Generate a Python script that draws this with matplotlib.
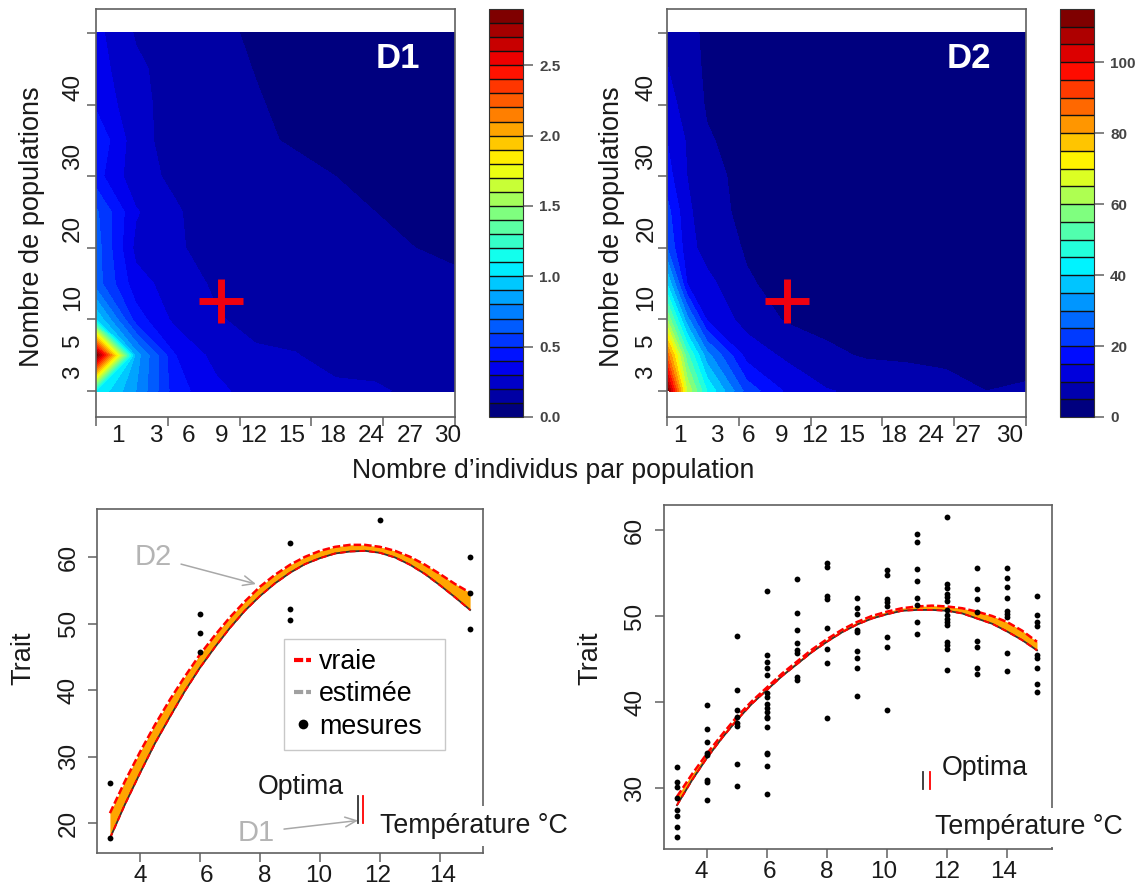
import matplotlib
matplotlib.use('Agg')
import matplotlib.pyplot as plt
from matplotlib.colors import LinearSegmentedColormap
from matplotlib.lines import Line2D
import numpy as np

plt.rcParams['font.family'] = ['Liberation Sans', 'DejaVu Sans']

W, H = 1137, 889

# grids of the two maps (0-1 scale of the R filled.contour)
grid_x_d1 = [0, 1/9, 2/9, 3/9, 4/9, 5/9, 6/9, 7/9, 8/9, 1]
grid_x_d2 = [0, 0.5/9, 1/9, 2/9, 3/9, 4/9, 5/9, 6/9, 7/9, 8/9, 1]
grid_y = [0, .1, .2, .3, .4, .5, .6, .7, .8, .9, 1]

# rows go from bottom to top
z_d1 = [
    [1.10, .80, .44, .33, .25, .205, .215, .21, .185, .17],
    [2.88, .85, .40, .265, .215, .203, .175, .17, .16, .15],
    [1.00, .45, .27, .21, .17, .17, .16, .155, .15, .14],
    [.65, .34, .25, .185, .17, .155, .15, .14, .13, .115],
    [.65, .27, .21, .17, .16, .15, .14, .13, .10, .085],
    [.62, .31, .21, .15, .15, .14, .125, .10, .09, .08],
    [.44, .235, .18, .16, .15, .125, .10, .085, .08, .075],
    [.484, .24, .15, .15, .115, .09, .085, .08, .075, .07],
    [.385, .225, .165, .125, .105, .085, .08, .075, .07, .065],
    [.345, .22, .155, .12, .098, .08, .075, .07, .065, .06],
    [.33, .19, .15, .115, .09, .075, .07, .065, .06, .06],
]
z_d2 = [
    [114, 65, 45, 23, 14.2, 10.3, 9, 8, 6.5, 5, 5.5],
    [88, 52, 32, 13, 9, 6, 4.5, 4.2, 4, 3.8, 3.6],
    [60, 32, 14.5, 8, 4.5, 3.5, 3, 2.8, 2.6, 2.5, 2.4],
    [40, 15, 11.5, 5.5, 3.5, 3, 2.7, 2.5, 2.4, 2.3, 2.2],
    [25, 12, 8, 4.5, 3, 2.7, 2.5, 2.3, 2.2, 2.1, 2],
    [22, 11, 7.3, 3.5, 2.5, 2.4, 2.3, 2.2, 2.1, 2, 1.9],
    [17, 10, 6.5, 3.5, 2.5, 2.3, 2.2, 2.1, 2, 1.9, 1.8],
    [15, 9.5, 5.5, 3, 2.4, 2.2, 2.1, 2, 1.9, 1.8, 1.7],
    [12, 8, 4.5, 2.8, 2.3, 2.1, 2, 1.9, 1.8, 1.7, 1.6],
    [10.2, 7, 4.2, 2.5, 2.2, 2, 1.9, 1.8, 1.7, 1.6, 1.5],
    [9.5, 6.5, 4, 2.4, 2.1, 1.9, 1.8, 1.7, 1.6, 1.5, 1.4],
]
levels_d1 = [i / 10 for i in range(30)]
levels_d2 = [i * 5 for i in range(24)]
cbar_ticks_d1 = [0, .5, 1, 1.5, 2, 2.5]
cbar_ticks_d2 = [0, 20, 40, 60, 80, 100]
jet_colors = ['#00007F', 'blue', '#007FFF', 'cyan', '#7FFF7F', 'yellow', '#FF7F00', 'red', '#7F0000']

n_indiv_labels = ['1', '3', '6', '9', '12', '15', '18', '24', '27', '30']
n_pop_labels = ['3', '5', '10', '20', '30', '40']
cross_d1 = (.347, .252)
cross_d2 = (.335, .252)

# lower panels
temp = [3, 3.5, 4, 4.5, 5, 5.5, 6, 6.5, 7, 7.5, 8, 8.5, 9, 9.5, 10, 10.5, 11, 11.5, 12, 12.5,
        13, 13.5, 14, 14.5, 15]
up_c = [21.5, 26.3, 30.7, 34.8, 38.6, 42.1, 45.4, 48.3, 51, 53.4, 55.6, 57.4, 58.9, 60.1, 61,
        61.6, 61.9, 61.9, 61.6, 61, 60.1, 58.9, 57.5, 56, 54.7]
lo_c = [17.7, 22.8, 27.5, 32, 36, 39.9, 43.4, 46.5, 49.4, 52, 54.2, 56.1, 57.7, 59, 59.9,
        60.6, 60.9, 61, 60.7, 60, 58.9, 57.5, 55.8, 54, 52.1]
meas_c_x = [3, 3, 6, 6, 6, 9, 9, 9, 12, 15, 15, 15]
meas_c_y = [26, 17.7, 51.5, 48.7, 45.8, 62.2, 52.2, 50.6, 65.6, 60, 54.6, 49.3]

up_d = [29, 31.6, 34, 36.2, 38.3, 40.1, 41.7, 43.3, 44.7, 46.1, 47.3, 48.4, 49.3, 50, 50.5,
        50.9, 51.1, 51.2, 51.1, 50.9, 50.5, 50, 49.3, 48.3, 47]
lo_d = [28, 30.9, 33.5, 35.8, 37.9, 39.8, 41.4, 43, 44.4, 45.8, 47, 48.1, 49, 49.7, 50.2,
        50.6, 50.7, 50.7, 50.6, 50.3, 49.7, 49.1, 48.2, 47.2, 46]
meas_d = {
    3: [32.4, 30.7, 30.1, 28.8, 27.4, 26.7, 25.5, 24.3],
    4: [39.65, 36.9, 35.3, 34.1, 33.8, 30.9, 30.7, 28.6],
    5: [47.7, 41.4, 39.1, 38.2, 37.5, 37.2, 32.75, 30.2],
    6: [52.9, 45.5, 44.7, 44, 43.1, 41, 40.6, 39.8, 39.3, 38.8, 38.3, 38.1, 37.1, 34.1, 33.95, 32.6, 29.3],
    7: [54.3, 50.4, 48.4, 46.8, 46, 45.7, 42.9, 42.6],
    8: [56.2, 55.7, 52.3, 52, 48.6, 46.2, 44.5, 38.1],
    9: [52.1, 50.9, 50.2, 48.4, 48.1, 45.9, 45.1, 44, 40.7],
    10: [55.3, 54.8, 52, 51.6, 51.2, 47.5, 46.4, 39.1],
    11: [59.5, 58.6, 55.5, 54.1, 52.1, 51.3, 49.3, 47.9],
    12: [61.5, 53.7, 53.3, 52.6, 52.2, 51.7, 50.7, 50.1, 49.7, 49.3, 49, 47, 46.6, 46.2, 43.7],
    13: [55.6, 53.1, 52, 50.5, 47.1, 46.4, 44, 43.3],
    14: [55.6, 54.4, 53.4, 52.1, 50.6, 50.2, 49.9, 45.7, 43.6],
    15: [52.3, 50.1, 49.3, 48.8, 45.5, 45.1, 43.9, 42.1, 41.2],
}

EDGE = '#606060'
TXT = '#1a1a1a'
BIG = 19.3


def px_axes(x0, y0, x1, y1):
    # axes from pixel box, y counted from the top
    a = fig.add_axes([x0 / W, 1 - y1 / H, (x1 - x0) / W, (y1 - y0) / H])
    # labels sit off the ticks, so minor ticks can share a major position
    a.xaxis.remove_overlapping_locs = False
    a.yaxis.remove_overlapping_locs = False
    return a


def style(ax):
    for s in ax.spines.values():
        s.set_color(EDGE)
        s.set_linewidth(1.2)


def heat(box, gx, z, levels, cbox, cticks, cross, name, xlab_pos, ylab_px, ypad):
    ax = px_axes(*box)
    n = len(levels) - 1
    cmap = LinearSegmentedColormap.from_list('jetR', jet_colors, N=n)
    cf = ax.contourf(gx, grid_y, np.array(z), levels=levels, cmap=cmap)
    ax.set_xlim(0, 1)
    ax.set_ylim(-.0726, 1.067)
    style(ax)
    ax.set_xticks([0, .2, .4, .6, .8, 1], [])
    ax.set_yticks([0, .2, .4, .6, .8, 1], [])
    ax.tick_params(axis='both', which='major', length=6.5, width=1.1, color=EDGE)
    # labels do not sit under the ticks in the original
    ax.set_xticks(xlab_pos, n_indiv_labels, minor=True)
    ax.set_yticks([.053, .142, .26, .455, .654, .849], n_pop_labels, minor=True)
    ax.tick_params(axis='x', which='minor', length=0, labelsize=17.5, pad=6, labelcolor=TXT)
    ax.tick_params(axis='y', which='minor', length=0, labelsize=17.5, pad=ypad, labelcolor=TXT,
                   labelrotation=90)
    for t in ax.get_yticklabels(minor=True):
        t.set_va('center')
    ax.plot(*cross, marker='+', ms=31, mew=5, color='#f00010', ls='none')
    ax.text(.84, .93, name, color='white', fontsize=25, fontweight='bold',
            ha='center', va='center')
    fig.text(ylab_px / W, 1 - 227 / H, 'Nombre de populations', rotation=90, fontsize=19.5,
             ha='center', va='center', color=TXT)

    cax = px_axes(*cbox)
    cb = fig.colorbar(cf, cax=cax, ticks=cticks, drawedges=True)
    cb.dividers.set_color('#111111')
    cb.dividers.set_linewidth(1.0)
    cb.outline.set_edgecolor('#333333')
    cb.ax.tick_params(length=7, width=1.1, color=EDGE, labelsize=11, labelcolor='#444444', pad=5)
    cb.ax.minorticks_off()
    for t in cb.ax.get_yticklabels():
        t.set_fontweight('bold')


def curve_panel(box, xlim, ylim, up, lo, opt, opt_y, ylab_x):
    ax = px_axes(*box)
    ax.set_xlim(*xlim)
    ax.set_ylim(*ylim)
    style(ax)
    ax.fill_between(temp, lo, up, color='#ffa500', lw=0, zorder=2)
    ax.plot(temp, lo, color='#333333', lw=1.3, zorder=2.1)
    ax.plot(temp, lo, color='red', lw=1.4, ls=(0, (3, 2)), zorder=2.2)
    ax.plot(temp, up, color='red', lw=1.8, ls=(0, (3, 1.2)), zorder=2.2)
    ax.plot([opt[0], opt[0]], opt_y, color='#333333', lw=1.3)
    ax.plot([opt[1], opt[1]], opt_y, color='red', lw=1.3)
    ax.tick_params(axis='both', which='major', length=6.5, width=1.1, color=EDGE)
    ax.tick_params(axis='y', labelsize=17.5, labelrotation=90, labelcolor=TXT, pad=6)
    for t in ax.get_yticklabels():
        t.set_va('center')
    fig.text(ylab_x / W, 1 - 658 / H, 'Trait', rotation=90, fontsize=19.5, ha='center',
             va='center', color=TXT)
    return ax


fig = plt.figure(figsize=(W / 100, H / 100), dpi=100)

heat((96, 9, 455, 417), grid_x_d1, z_d1, levels_d1, (489, 9, 522.5, 417), cbar_ticks_d1,
     cross_d1, 'D1', [.061, .167, .259, .351, .440, .546, .660, .766, .875, .980], 32, 8.5)
heat((667, 9, 1026, 417), grid_x_d2, z_d2, levels_d2, (1060, 9, 1093.5, 417), cbar_ticks_d2,
     cross_d2, 'D2', [.035, .140, .226, .320, .410, .515, .630, .735, .840, .955], 612, 7)

fig.text(553 / W, 1 - 471 / H, 'Nombre d\u2019individus par population', fontsize=19.2,
         ha='center', va='center', color=TXT)

# left lower panel
ax_c = curve_panel((97, 509, 483, 853), (2.57, 15.43), (15.5, 67.3), up_c, lo_c,
                   (11.27, 11.42), (20, 24.1), 23)
ax_c.plot(meas_c_x, meas_c_y, 'o', color='black', ms=4.2, mew=0, zorder=3)
ax_c.set_xticks([4, 6, 8, 10, 12, 14], [])
ax_c.set_yticks([20, 30, 40, 50, 60])
ax_c.set_xticks([4, 6.23, 8.17, 9.97, 11.93, 14.07], ['4', '6', '8', '10', '12', '14'], minor=True)
ax_c.tick_params(axis='x', which='minor', length=0, labelsize=17.5, labelcolor=TXT, pad=8.5)
ax_c.text(9.37, 25.4, 'Optima', fontsize=BIG, ha='center', va='center', color=TXT)
ax_c.text(15.13, 19.5, 'Temp\u00e9rature \u00b0C', fontsize=BIG, ha='center', va='center', color=TXT,
          zorder=5, clip_on=False, bbox=dict(fc='white', ec='none', pad=5))
ax_c.text(4.43, 60, 'D2', fontsize=21, color='#b4b4b4', ha='center', va='center')
ax_c.text(7.87, 18.5, 'D1', fontsize=21, color='#b4b4b4', ha='center', va='center')
ax_c.annotate('', xy=(7.87, 56), xytext=(5.37, 59),
              arrowprops=dict(arrowstyle='->,head_width=.35,head_length=.8', color='#a8a8a8', lw=1.1,
                              shrinkA=0, shrinkB=0))
ax_c.annotate('', xy=(11.27, 20.4), xytext=(8.8, 19.1),
              arrowprops=dict(arrowstyle='->,head_width=.35,head_length=.8', color='#a8a8a8', lw=1.1,
                              shrinkA=0, shrinkB=0))
leg_handles = [
    Line2D([], [], color='red', lw=3, ls=(0, (2.2, .7))),
    Line2D([], [], color='#a0a0a0', lw=3, ls=(0, (2.2, .7))),
    Line2D([], [], color='black', marker='o', ms=7, mew=0, ls='none'),
]
leg = ax_c.legend(leg_handles, ['vraie', 'estim\u00e9e', 'mesures'], loc='lower left',
                  bbox_to_anchor=(284 / W, 1 - 750 / H, 161 / W, 111 / H),
                  bbox_transform=fig.transFigure, mode='expand',
                  borderaxespad=0, fontsize=BIG, frameon=True, fancybox=False, framealpha=1,
                  edgecolor='#c8c8c8', handlelength=.62, handletextpad=.3, labelspacing=.23,
                  borderpad=.39)
leg.get_frame().set_linewidth(1)

# right lower panel
ax_d = curve_panel((663.5, 505, 1052, 849), (2.55, 15.5), (22.9, 62.9), up_d, lo_d,
                   (11.2, 11.42), (29.9, 31.9), 590)
for tx, vals in meas_d.items():
    ax_d.plot([tx] * len(vals), vals, 'o', color='black', ms=4.2, mew=0, zorder=3)
ax_d.set_xticks([4, 6, 8, 10, 12, 14], [])
ax_d.set_yticks([30, 40, 50, 60])
ax_d.set_xticks([3.8, 6.1, 8.0, 9.9, 12.0, 13.9], ['4', '6', '8', '10', '12', '14'], minor=True)
ax_d.tick_params(axis='x', which='minor', length=0, labelsize=17.5, labelcolor=TXT, pad=8.5)
ax_d.text(13.27, 32.3, 'Optima', fontsize=BIG, ha='center', va='center', color=TXT)
ax_d.text(14.73, 25.4, 'Temp\u00e9rature \u00b0C', fontsize=BIG, ha='center', va='center', color=TXT,
          zorder=5, clip_on=False, bbox=dict(fc='white', ec='none', pad=5))

fig.savefig('out.png', dpi=100)
